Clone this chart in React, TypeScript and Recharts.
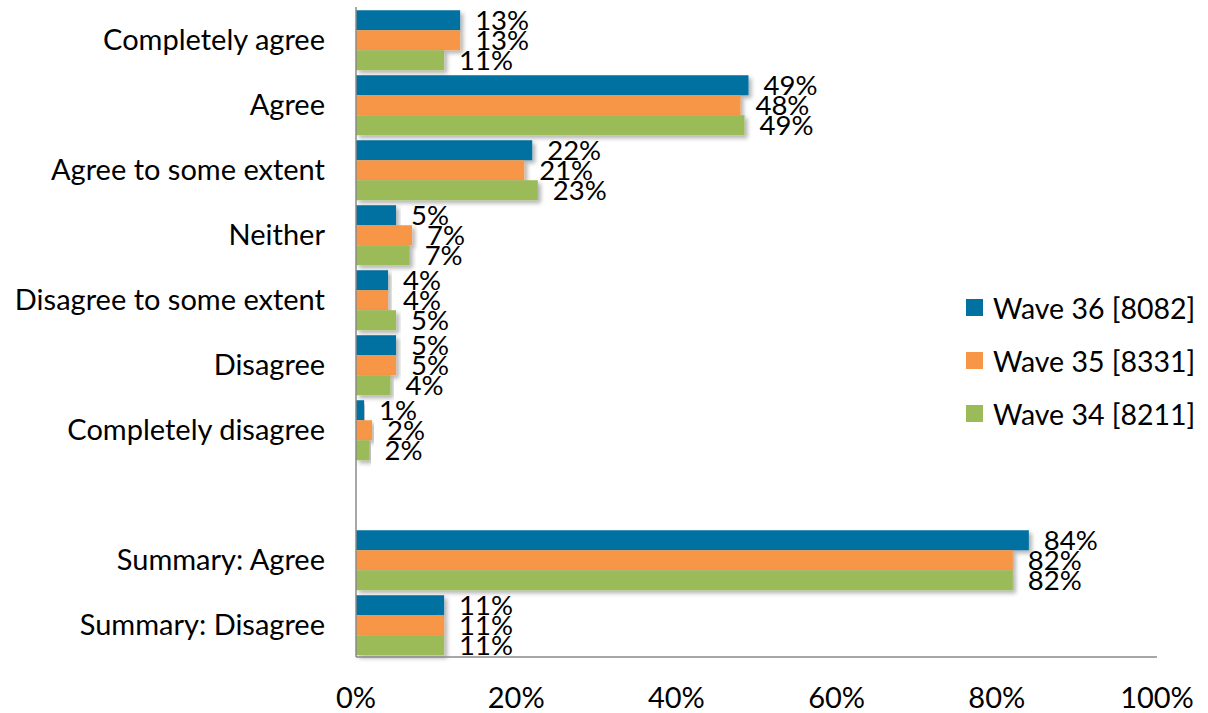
import React from "react";
import {
  BarChart,
  Bar,
  XAxis,
  YAxis,
  Legend,
  LabelList,
} from "recharts";

const categories = [
  "Completely agree",
  "Agree",
  "Agree to some extent",
  "Neither",
  "Disagree to some extent",
  "Disagree",
  "Completely disagree",
  "",
  "Summary: Agree",
  "Summary: Disagree",
];

const wave36 = [13, 49, 22, 5, 4, 5, 1, null, 84, 11];
const wave35 = [13, 48, 21, 7, 4, 5, 2, null, 82, 11];
const wave34 = [11, 48.5, 22.7, 6.7, 5, 4.3, 1.7, null, 82, 11];
const wave34Labels = [11, 49, 23, 7, 5, 4, 2, null, 82, 11];

const xTicks = [0, 20, 40, 60, 80, 100];

const series = [
  { key: "w36", name: "Wave 36 [8082]", color: "#0071A1" },
  { key: "w35", name: "Wave 35 [8331]", color: "#F79646" },
  { key: "w34", name: "Wave 34 [8211]", color: "#9BBB59" },
];

const data = categories.map((name, i) => ({
  name,
  w36: wave36[i],
  w35: wave35[i],
  w34: wave34[i],
  w34label: wave34Labels[i],
}));

const FONT = "Lato, 'Open Sans', sans-serif";

function ShadowBar(props: any) {
  const { x, y, width, height, fill } = props;
  if (!width || width <= 0) return null;
  return (
    <rect
      x={x}
      y={y}
      width={width}
      height={height}
      fill={fill}
      filter="url(#barShadow)"
    />
  );
}

function pct(v: unknown) {
  if (v === null || v === undefined || v === "") return "";
  return `${v}%`;
}

// legend keeps the series order (36, 35, 34) top to bottom
function LegendBox() {
  return (
    <div style={{ fontFamily: FONT, fontSize: 28.5, color: "#000" }}>
      {series.map((s) => (
        <div
          key={s.key}
          style={{ display: "flex", alignItems: "center", height: 53 }}
        >
          <span
            style={{
              width: 17,
              height: 17,
              background: s.color,
              display: "inline-block",
              marginRight: 10,
            }}
          />
          <span>{s.name}</span>
        </div>
      ))}
    </div>
  );
}

export default function App() {
  return (
    <div style={{ position: "absolute", left: 0, top: 0, background: "#fff" }}>
      <BarChart
        width={1208}
        height={713}
        data={data}
        layout="vertical"
        margin={{ top: 7, right: 51, bottom: 6, left: 0 }}
        barGap={0}
        barCategoryGap="5%"
      >
        <defs>
          <filter id="barShadow" x="-5%" y="-20%" width="115%" height="160%">
            <feDropShadow
              dx="3"
              dy="3"
              stdDeviation="2"
              floodColor="#000"
              floodOpacity="0.3"
            />
          </filter>
        </defs>
        <XAxis
          type="number"
          domain={[0, 100]}
          ticks={xTicks}
          tickFormatter={(v) => `${v}%`}
          tickLine={false}
          axisLine={{ stroke: "#8a8a8a", strokeWidth: 1.5 }}
          tick={{ fill: "#000", fontSize: 29, fontFamily: FONT, dy: 22 }}
          height={50}
        />
        <YAxis
          type="category"
          dataKey="name"
          width={356}
          tickLine={false}
          tickSize={29}
          axisLine={{ stroke: "#8a8a8a", strokeWidth: 1.5 }}
          tick={{ fill: "#000", fontSize: 29, fontFamily: FONT }}
          interval={0}
        />
        <Legend
          layout="horizontal"
          verticalAlign="middle"
          align="center"
          wrapperStyle={{ left: 966, top: 281, width: 242 }}
          content={<LegendBox />}
        />
        <Bar
          dataKey="w36"
          name={series[0].name}
          fill={series[0].color}
          shape={<ShadowBar />}
          isAnimationActive={false}
        >
          <LabelList
            dataKey="w36"
            position="right"
            offset={15}
            formatter={pct}
            style={{ fill: "#000", fontSize: 27.5, fontFamily: FONT }}
          />
        </Bar>
        <Bar
          dataKey="w35"
          name={series[1].name}
          fill={series[1].color}
          shape={<ShadowBar />}
          isAnimationActive={false}
        >
          <LabelList
            dataKey="w35"
            position="right"
            offset={15}
            formatter={pct}
            style={{ fill: "#000", fontSize: 27.5, fontFamily: FONT }}
          />
        </Bar>
        <Bar
          dataKey="w34"
          name={series[2].name}
          fill={series[2].color}
          shape={<ShadowBar />}
          isAnimationActive={false}
        >
          <LabelList
            dataKey="w34label"
            position="right"
            offset={15}
            formatter={pct}
            style={{ fill: "#000", fontSize: 27.5, fontFamily: FONT }}
          />
        </Bar>
      </BarChart>
    </div>
  );
}
